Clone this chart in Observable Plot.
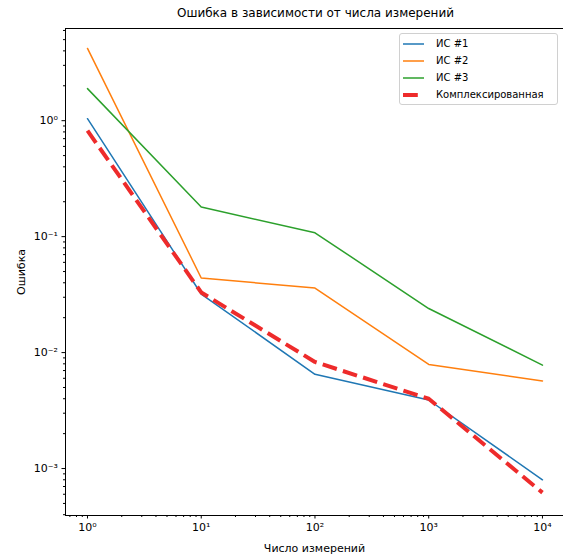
<!DOCTYPE html>
<html>
<head>
<meta charset="utf-8">
<script src="https://cdn.jsdelivr.net/npm/d3@7"></script>
<script src="https://cdn.jsdelivr.net/npm/@observablehq/plot@0.6"></script>
<style>
  html, body { margin: 0; padding: 0; background: #fff; }
  #wrap { position: relative; width: 563px; height: 557px; overflow: hidden; font-family: "DejaVu Sans", sans-serif; }
  #title { position: absolute; left: 65px; width: 501px; top: 6px; text-align: center; font-size: 12px; color: #000; }
  #legend { position: absolute; left: 399px; top: 33px; width: 157px; height: 70px; border: 1px solid #d0d0d0; border-radius: 3px; background: rgba(255,255,255,0.8); font-size: 10px; }
  .row { position: absolute; left: 0; height: 17px; display: flex; align-items: center; }
  .row svg { margin-left: 3px; margin-right: 12px; }
</style>
</head>
<body>
<div id="wrap">
  <div id="chart"></div>
  <div id="title">Ошибка в зависимости от числа измерений</div>
  <div id="legend"></div>
</div>
<script>
const measurements = [1, 10, 100, 1000, 10000];
const seriesNames = ["ИС #1", "ИС #2", "ИС #3", "Комплексированная"];
const is1 = [1.04, 0.032, 0.0065, 0.0039, 0.00080];
const is2 = [4.2, 0.044, 0.036, 0.0079, 0.0057];
const is3 = [1.89, 0.18, 0.108, 0.024, 0.0078];
const combined = [0.82, 0.033, 0.0083, 0.0040, 0.00062];
const majorTicksX = [1, 10, 100, 1000, 10000];
const majorTicksY = [0.001, 0.01, 0.1, 1];

const colors = ["#1f77b4", "#ff7f0e", "#2ca02c", "#ee2b2b"];
const allValues = [is1, is2, is3, combined];
const rows = [];
allValues.forEach((vals, si) => vals.forEach((v, i) => rows.push({series: seriesNames[si], x: measurements[i], y: v})));

const sup = {"-": "⁻", "0": "⁰", "1": "¹", "2": "²", "3": "³", "4": "⁴", "5": "⁵", "6": "⁶", "7": "⁷", "8": "⁸", "9": "⁹"};
const fmt = d => "10" + String(Math.round(Math.log10(d))).split("").map(c => sup[c]).join("");

function minorTicks(lo, hi) {
  const out = [];
  for (let e = Math.floor(Math.log10(lo)); e <= Math.ceil(Math.log10(hi)); e++) {
    for (let k = 2; k <= 9; k++) {
      const v = k * Math.pow(10, e);
      if (v >= lo && v <= hi) out.push(v);
    }
  }
  return out;
}

const xDomain = [Math.pow(10, -0.1934), Math.pow(10, 4.185)];
const yDomain = [Math.pow(10, -3.405), Math.pow(10, 0.795)];

const plot = Plot.plot({
  width: 563,
  height: 557,
  marginLeft: 65,
  marginRight: 0,
  marginTop: 28,
  marginBottom: 42,
  style: {fontFamily: "DejaVu Sans, sans-serif", fontSize: "10px", color: "#000", background: "#fff"},
  x: {type: "log", domain: xDomain},
  y: {type: "log", domain: yDomain},
  marks: [
    Plot.axisX(minorTicks(...xDomain), {tickSize: 2, tickFormat: null, text: null, label: null, stroke: "#000"}),
    Plot.axisX(majorTicksX, {tickSize: 3.5, tickPadding: 4, tickFormat: fmt, fontSize: 11, label: "Число измерений", labelAnchor: "center", labelArrow: "none", labelOffset: 36}),
    Plot.axisY(minorTicks(...yDomain), {tickSize: 2, tickFormat: null, text: null, label: null, stroke: "#000"}),
    Plot.axisY(majorTicksY, {tickSize: 3.5, tickPadding: 4, tickFormat: fmt, fontSize: 11, label: "Ошибка", labelAnchor: "center", labelArrow: "none", labelOffset: 48}),
    Plot.line(rows.filter(d => d.series === seriesNames[0]), {x: "x", y: "y", stroke: colors[0], strokeWidth: 1.5}),
    Plot.line(rows.filter(d => d.series === seriesNames[1]), {x: "x", y: "y", stroke: colors[1], strokeWidth: 1.5}),
    Plot.line(rows.filter(d => d.series === seriesNames[2]), {x: "x", y: "y", stroke: colors[2], strokeWidth: 1.5}),
    Plot.line(rows.filter(d => d.series === seriesNames[3]), {x: "x", y: "y", stroke: colors[3], strokeWidth: 4, strokeDasharray: "14.8,6.4", strokeLinecap: "butt"}),
    Plot.frame({stroke: "#000", strokeWidth: 1})
  ]
});
document.getElementById("chart").appendChild(plot);

// Legend
const legend = document.getElementById("legend");
seriesNames.forEach((name, i) => {
  const row = document.createElement("div");
  row.className = "row";
  row.style.top = (1 + i * 17) + "px";
  const dashed = i === 3;
  row.innerHTML = `<svg width="21" height="8"><line x1="0" x2="21" y1="4" y2="4" stroke="${colors[i]}" stroke-width="${dashed ? 4 : 1.5}" ${dashed ? 'stroke-dasharray="14.8,6.4"' : ''}/></svg><span>${name}</span>`;
  legend.appendChild(row);
});
</script>
</body>
</html>
